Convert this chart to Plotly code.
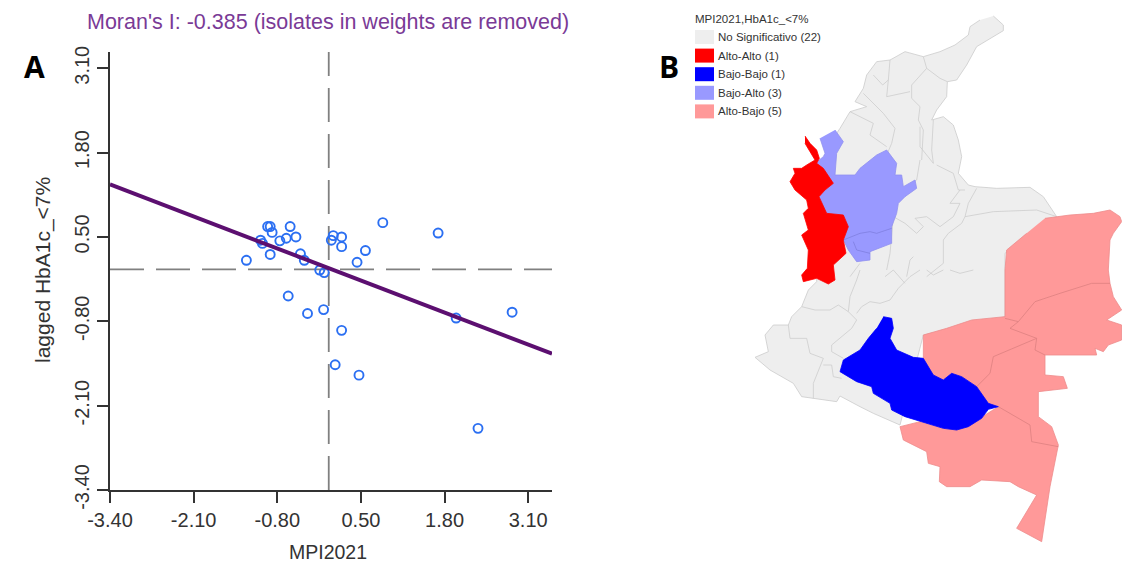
import plotly.graph_objects as go

W, H = 1122, 565

# ---- Moran scatter (standardised values) ----
mpi_values = [-1.28, -1.06, -1.03, -0.91, -0.95, -0.91, -0.88, -0.76, -0.66, -0.60, -0.51,
              -0.44, -0.38, -0.14, -0.07, -0.63, -0.33, -0.08, 0.20, 0.04, 0.07, 0.20,
              0.20, 0.57, 0.44, 0.84, 1.70, 1.98, 2.85, 0.10, 0.47, 2.32]
lagged_values = [0.14, 0.45, 0.40, 0.23, 0.66, 0.66, 0.57, 0.44, 0.48, 0.66, 0.50,
                 0.24, 0.14, -0.01, -0.05, -0.41, -0.68, -0.62, -0.94, 0.45, 0.52, 0.50,
                 0.35, 0.29, 0.11, 0.72, 0.56, -0.75, -0.66, -1.47, -1.63, -2.45]
fit_x = [-3.40, 3.47]
fit_y = [1.31, -1.30]
tick_values = [-3.40, -2.10, -0.80, 0.50, 1.80, 3.10]
tick_labels = ["-3.40", "-2.10", "-0.80", "0.50", "1.80", "3.10"]

# ---- Map outlines (local map grid: easting, southing) ----
country_e = [1000,1030,1030,985,950,920,890,862,860,830,815,850,880,895,905,895,925,945,1010,1110,1150,1190,
             1035,1035,790,720,640,600,540,530,460,425,400,330,285,325,315,340,385,395,425,445,470,
             470,530,540,570,620,585,610,620,650,690,735,790,840,885,925,930,960]
country_s = [48,75,92,120,140,195,240,245,290,330,360,350,375,420,470,520,555,560,565,562,590,650,
             760,950,1005,1275,1240,1220,1188,1205,1195,1190,1150,1110,1072,1055,1005,975,975,950,920,870,845,
             600,400,385,335,320,305,265,225,185,180,155,170,155,135,105,80,60]

border_e = [690,685,668,640,None, 790,800,840,862,None, 685,680,750,None, 800,755,755,780,775,790,785,None,
            610,670,705,695,680,None, 570,620,640,630,680,None,
            780,780,820,815,820,None, 780,770,720,None, 830,880,895,915,None,
            950,925,915,1000,1130,1190,None, 915,905,865,850,850,None,
            900,870,900,880,840,800,765,790,770,735,700,None,
            700,690,680,None, 600,570,None, 740,750,760,None, 800,850,None,
            425,465,510,535,565,590,575,540,515,515,550,None,
            385,390,440,450,490,460,460,None, 490,515,520,545,None,
            565,570,590,600,None, 590,605,630,660,690,715,750,780,None,
            675,700,None, 700,735,None, 800,820,850,None, 870,900,940]
border_s = [180,240,255,225,None, 170,205,235,245,None, 240,290,275,None, 205,255,295,320,360,390,480,None,
            280,340,385,430,465,None, 335,360,370,405,440,None,
            380,440,490,450,360,None, 480,540,570,None, 495,520,570,570,None,
            565,610,650,635,630,650,None, 650,670,700,720,790,None,
            570,610,610,650,680,650,655,680,700,670,650,None,
            650,760,810,None, 790,830,None, 830,780,770,None, 830,790,None,
            920,930,930,915,935,960,985,1015,1035,1055,1075,None,
            975,1015,1015,1060,1075,1150,1195,None, 1095,1095,1130,1135,None,
            935,890,840,810,None, 940,920,905,910,900,865,830,810,None,
            830,810,None, 810,850,None, 810,825,810,None, 810,820,810]

choco_e = [435,450,470,478,470,490,520,495,477,500,550,565,550,558,520,525,505,470,430,425,442,445,425,445,430,445,440,405,390,405,400,425,440,465,450,435]
choco_s = [408,430,450,475,490,505,550,570,590,640,645,680,720,760,795,840,852,835,845,825,805,750,705,690,640,625,600,570,545,520,505,505,495,480,455,430]

antioquia_e = [525,550,530,525,585,600,650,680,710,705,725,730,765,770,735,715,710,695,695,630,630,590,565,550,565,550,500,477,495,520,490,465,490,495,480]
antioquia_s = [390,425,460,525,525,505,465,450,490,525,525,560,540,565,590,610,640,680,730,755,780,785,750,720,680,645,640,590,570,550,505,490,470,460,415]
antioquia_inner_e = [550,600,630,650,695,None,580,590,630]
antioquia_inner_s = [720,700,695,700,685,None,725,750,760]

caqueta_e = [670,695,700,690,710,760,790,820,850,875,905,950,985,1015,985,965,925,890,850,780,735,695,690,640,635,590,540,550,600,625,650]
caqueta_s = [950,955,985,1015,1050,1072,1075,1125,1140,1120,1130,1160,1210,1220,1228,1255,1280,1290,1285,1265,1250,1230,1210,1180,1160,1145,1115,1080,1050,1015,985]

east_e = [1155,1230,1300,1350,1380,1385,1360,1350,1345,1350,1360,1385,1340,1385,1385,1345,1330,1305,1310,1155,1155,1210,1222,1135,1135,1175,1195,
          1170,1145,1070,1130,1075,1050,965,930,860,838,840,805,800,730,720,780,850,890,925,975,1015,985,950,905,875,850,820,790,790,860,935,1035,1035,1040,1100]
east_s = [655,645,640,630,650,665,700,720,810,850,890,930,960,975,1020,1035,1055,1045,1065,1065,1125,1130,1165,1175,1250,1280,1335,
          1460,1625,1585,1485,1460,1445,1440,1460,1460,1445,1400,1390,1355,1320,1280,1265,1285,1290,1280,1245,1220,1210,1160,1130,1120,1140,1125,1075,1005,985,960,950,810,750,700]
east_inner_e = [1035,1075,1050,1130,1000,990,950,None,1075,1125,1200,1295,1350,None,1130,1125,1155,None,1015,1050,1110,1115,1195]
east_inner_s = [955,965,985,1015,1070,1120,1160,None,965,905,880,850,850,None,1015,1050,1065,None,1220,1240,1275,1325,1340]

legend_title = "MPI2021,HbA1c_<7%"
legend_labels = ["No Significativo (22)", "Alto-Alto (1)", "Bajo-Bajo (1)", "Bajo-Alto (3)", "Alto-Bajo (5)"]
legend_colors = ["#eeeeee", "#ff0000", "#0000ff", "#9999ff", "#ff9999"]

fx = lambda p: p / W
fy = lambda p: 1 - p / H

fig = go.Figure()

def region(e, s, fill, line, width=0.8):
    fig.add_trace(go.Scatter(x=e, y=s, xaxis="x2", yaxis="y2", mode="lines", fill="toself",
                             fillcolor=fill, line=dict(color=line, width=width), hoverinfo="skip"))

def inner(e, s, color, width=0.8):
    fig.add_trace(go.Scatter(x=e, y=s, xaxis="x2", yaxis="y2", mode="lines",
                             line=dict(color=color, width=width), connectgaps=False, hoverinfo="skip"))

region(country_e, country_s, "#eeeeee", "#cccccc")
inner(border_e, border_s, "#cdcdcd")
region(east_e, east_s, "#ff9999", "#ee8c8c")
inner(east_inner_e, east_inner_s, "#dd8080")
region(antioquia_e, antioquia_s, "#9999ff", "#9090f0")
inner(antioquia_inner_e, antioquia_inner_s, "#7f7fe0")
region(caqueta_e, caqueta_s, "#0000ff", "#0000ff")
region(choco_e, choco_s, "#ff0000", "#ff0000")

zero_dash = "34px,12px"
fig.add_trace(go.Scatter(x=[-3.40, 3.47], y=[0, 0], mode="lines",
                         line=dict(color="#808080", width=1.8, dash=zero_dash), hoverinfo="skip"))
fig.add_trace(go.Scatter(x=[0, 0], y=[-3.40, 3.35], mode="lines",
                         line=dict(color="#808080", width=1.8, dash=zero_dash), hoverinfo="skip"))
fig.add_trace(go.Scatter(x=mpi_values, y=lagged_values, mode="markers",
                         marker=dict(symbol="circle-open", size=9, color="#2b6ff2", line=dict(width=1.9, color="#2b6ff2"))))
fig.add_trace(go.Scatter(x=fit_x, y=fit_y, mode="lines", line=dict(color="#5c0f70", width=4), hoverinfo="skip"))

SANS = "Liberation Sans, Arial, sans-serif"
tick_font = dict(family=SANS, size=20, color="#333333")
common = dict(showgrid=False, zeroline=False, showline=True, linecolor="#333333", linewidth=1.8,
              ticks="outside", ticklen=11, tickwidth=1.8, tickcolor="#333333", automargin=False,
              tickvals=tick_values, ticktext=tick_labels, tickfont=tick_font)

def note(text, px, py, font, xanchor="center", **kw):
    return dict(text=text, x=fx(px), y=fy(py), xref="paper", yref="paper", showarrow=False,
                xanchor=xanchor, yanchor="middle", font=font, **kw)

annotations = [
    note("Moran's I: -0.385 (isolates in weights are removed)", 328, 22, dict(family=SANS, size=21.5, color="#7a3a96")),
    note("MPI2021", 328, 552, dict(family=SANS, size=19.5, color="#333333"), borderpad=0),
    note("lagged HbA1c_<7%", 43, 270, dict(family=SANS, size=21, color="#333333"), textangle=-90),
    note("<b>A</b>", 34, 66, dict(family="Open Sans, sans-serif", size=30, color="black")),
    note("<b>B</b>", 669, 66, dict(family="Open Sans, sans-serif", size=30, color="black")),
    note(legend_title, 693, 19, dict(family=SANS, size=11.5, color="#333333"), xanchor="left"),
]
shapes = []
for i, (lab, col) in enumerate(zip(legend_labels, legend_colors)):
    yc = 37 + i * 18.6
    shapes.append(dict(type="rect", xref="paper", yref="paper", x0=fx(695), x1=fx(714), y0=fy(yc - 7), y1=fy(yc + 7),
                       fillcolor=col, line=dict(width=0)))
    annotations.append(note(lab, 716, yc, dict(family=SANS, size=11.5, color="#333333"), xanchor="left"))

fig.update_layout(
    width=W, height=H, margin=dict(l=0, r=0, t=0, b=0), paper_bgcolor="white", plot_bgcolor="white",
    showlegend=False, hovermode=False,
    xaxis=dict(domain=[fx(110), fx(552)], range=[-3.40, 3.47], anchor="y", **common),
    yaxis=dict(domain=[fy(490), fy(52)], range=[-3.40, 3.35], anchor="x", tickangle=-90, **common),
    xaxis2=dict(domain=[fx(660), 1], range=[0, 1386], visible=False, anchor="y2"),
    yaxis2=dict(domain=[0, 1], range=[1695, 0], visible=False, anchor="x2"),
    annotations=annotations, shapes=shapes,
)

fig.write_html("out.html", config=dict(displayModeBar=False),
               post_script="document.body.style.margin='0';document.body.style.overflow='hidden';")
